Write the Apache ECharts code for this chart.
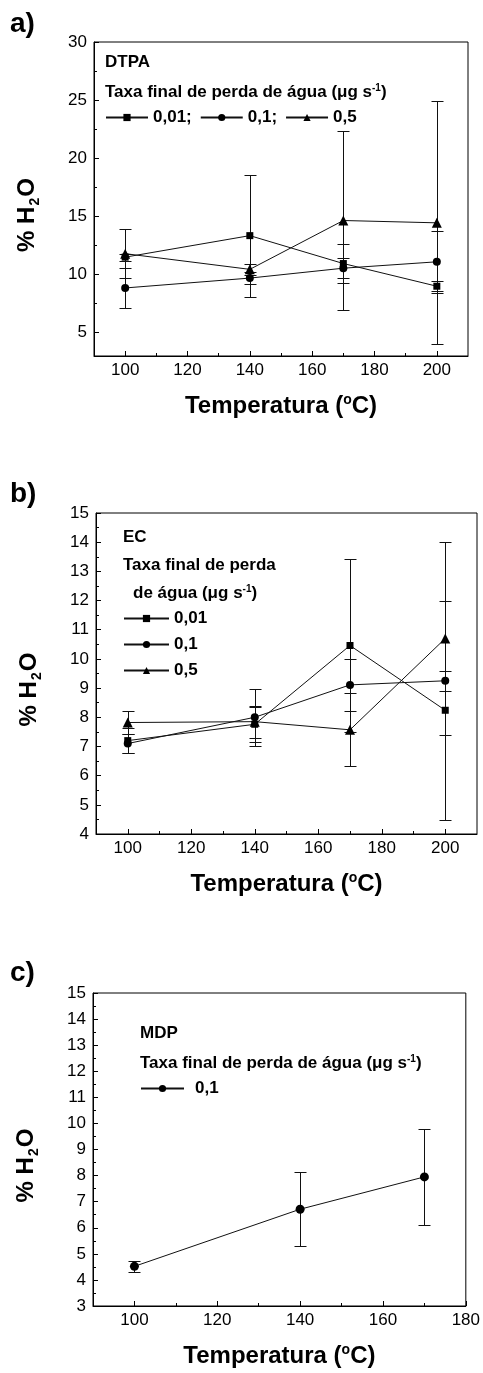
<!DOCTYPE html>
<html><head><meta charset="utf-8">
<script src="https://cdn.jsdelivr.net/npm/echarts@6/dist/echarts.min.js"></script>
<style>html,body{margin:0;padding:0;background:#fff}#c{width:483px;height:1373px}</style>
</head><body><div id="c"></div>
<script>
// ---------- Panel a) DTPA ----------
const tempA = [100, 140, 170, 200];
const a001 = [11.5, 13.35, 10.95, 9.0];
const a001Err = [0.3, 5.25, 1.65, 0.45];
const a01 = [8.85, 9.7, 10.55, 11.1];
const a01Err = [1.75, 0.5, 0.85, 2.65];
const a05 = [11.8, 10.45, 14.65, 14.45];
const a05Err = [2.1, 0.45, 7.7, 10.45];
// ---------- Panel b) EC ----------
const tempB = [100, 140, 170, 200];
const b001 = [7.2, 7.76, 10.46, 8.24];
const b001Err = [0.42, 0.6, 2.97, 3.76];
const b01 = [7.1, 8.0, 9.11, 9.25];
const b01Err = [0.32, 0.97, 0.89, 0.35];
const b05 = [7.82, 7.85, 7.57, 10.7];
const b05Err = [0.4, 0.55, 1.25, 3.3];
// ---------- Panel c) MDP ----------
const tempC = [100, 140, 170];
const c01 = [4.52, 6.71, 7.95];
const c01Err = [0.2, 1.41, 1.83];
// ---------- Tick labels ----------
const xTicksAB = [100, 120, 140, 160, 180, 200];
const xMinorAB = [110, 130, 150, 170, 190];
const yTicksA = [5, 10, 15, 20, 25, 30];
const yMinorA = [7.5, 12.5, 17.5, 22.5, 27.5];
const yTicksB = [4, 5, 6, 7, 8, 9, 10, 11, 12, 13, 14, 15];
const yMinorB = [4.5, 5.5, 6.5, 7.5, 8.5, 9.5, 10.5, 11.5, 12.5, 13.5, 14.5];
const xTicksC = [100, 120, 140, 160, 180];
const xMinorC = [110, 130, 150, 170];
const yTicksC = [3, 4, 5, 6, 7, 8, 9, 10, 11, 12, 13, 14, 15];
const yMinorC = [3.5, 4.5, 5.5, 6.5, 7.5, 8.5, 9.5, 10.5, 11.5, 12.5, 13.5, 14.5];

const FONT = "'Liberation Sans', Arial, sans-serif";
const BLK = '#000';

const grids = [
  {left: 94, top: 42, width: 374, height: 314},
  {left: 96, top: 513, width: 381, height: 321},
  {left: 93, top: 993, width: 374, height: 313}
].map(g => Object.assign(g, {show: true, borderColor: BLK, borderWidth: 1, backgroundColor: 'transparent'}));

const xName = '{b|Temperatura (}{s|o}{b|C)}';
const yName = '{b|% H}{d|2}{b|O}';
const nameRich = {
  b: {fontSize: 24, fontWeight: 'bold', fontFamily: FONT, color: BLK, lineHeight: 30},
  s: {fontSize: 14, fontWeight: 'bold', fontFamily: FONT, color: BLK, lineHeight: 30, verticalAlign: 'top', padding: [2, 0, 0, 0]},
  d: {fontSize: 14, fontWeight: 'bold', fontFamily: FONT, color: BLK, lineHeight: 30, verticalAlign: 'bottom', padding: [0, 1, 0, 1]}
};

function mainAxis(dim, gi, min, max, ticks) {
  const ax = {
    type: 'value', gridIndex: gi, min, max,
    position: dim === 'x' ? 'bottom' : 'left',
    axisLine: {show: true, onZero: false, lineStyle: {color: BLK, width: 1}},
    axisTick: {show: true, inside: true, length: 5, customValues: ticks, lineStyle: {color: BLK}},
    axisLabel: {customValues: ticks, fontSize: 17, color: BLK, fontFamily: FONT, margin: dim === 'x' ? 6 : 7},
    splitLine: {show: false},
    nameLocation: 'middle'
  };
  if (dim === 'x') {
    ax.name = xName; ax.nameGap = 35;
    ax.nameTextStyle = {rich: nameRich};
  } else {
    ax.name = yName; ax.nameGap = 52;
    ax.nameTextStyle = {rich: nameRich, padding: [0, 32, 0, 0]};
  }
  return ax;
}
function minorAxis(dim, gi, min, max, ticks) {
  return {
    type: 'value', gridIndex: gi, min, max,
    position: dim === 'x' ? 'bottom' : 'left', offset: 0,
    axisLine: {show: false, onZero: false},
    axisTick: {show: true, inside: true, length: 3, customValues: ticks, lineStyle: {color: BLK}},
    axisLabel: {show: false},
    splitLine: {show: false}
  };
}

const xAxis = [
  mainAxis('x', 0, 90, 210, xTicksAB), mainAxis('x', 1, 90, 210, xTicksAB), mainAxis('x', 2, 90, 180, xTicksC),
  minorAxis('x', 0, 90, 210, xMinorAB), minorAxis('x', 1, 90, 210, xMinorAB), minorAxis('x', 2, 90, 180, xMinorC)
];
const yAxis = [
  mainAxis('y', 0, 3, 30, yTicksA), mainAxis('y', 1, 4, 15, yTicksB), mainAxis('y', 2, 3, 15, yTicksC),
  minorAxis('y', 0, 3, 30, yMinorA), minorAxis('y', 1, 4, 15, yMinorB), minorAxis('y', 2, 3, 15, yMinorC)
];

function lineSeries(name, xs, ys, gi, symbol, size) {
  return {
    type: 'line', name, xAxisIndex: gi, yAxisIndex: gi,
    data: xs.map((x, i) => [x, ys[i]]),
    symbol, symbolSize: size, showSymbol: true,
    lineStyle: {color: '#111', width: 1},
    itemStyle: {color: BLK, borderWidth: 0},
    z: 3, animation: false
  };
}
function errSeries(xs, ys, es, gi) {
  return {
    type: 'custom', xAxisIndex: gi, yAxisIndex: gi, silent: true, z: 2, animation: false,
    data: xs.map((x, i) => [x, ys[i], es[i]]),
    encode: {x: 0, y: 1},
    renderItem(params, api) {
      const x = api.value(0), y = api.value(1), e = api.value(2);
      const hi = api.coord([x, y + e]), lo = api.coord([x, y - e]);
      const cx = Math.round(hi[0]) + 0.5, y1 = Math.round(hi[1]) + 0.5, y2 = Math.round(lo[1]) + 0.5;
      const w = 6;
      const style = {stroke: '#111', lineWidth: 1};
      return {type: 'group', children: [
        {type: 'line', shape: {x1: cx, y1: y1, x2: cx, y2: y2}, style},
        {type: 'line', shape: {x1: cx - w, y1: y1, x2: cx + w, y2: y1}, style},
        {type: 'line', shape: {x1: cx - w, y1: y2, x2: cx + w, y2: y2}, style}
      ]};
    }
  };
}

const series = [
  errSeries(tempA, a001, a001Err, 0), errSeries(tempA, a01, a01Err, 0), errSeries(tempA, a05, a05Err, 0),
  lineSeries('0,01;', tempA, a001, 0, 'rect', 7),
  lineSeries('0,1;', tempA, a01, 0, 'circle', 8),
  lineSeries('0,5', tempA, a05, 0, 'triangle', 10),
  errSeries(tempB, b001, b001Err, 1), errSeries(tempB, b01, b01Err, 1), errSeries(tempB, b05, b05Err, 1),
  lineSeries('0,01', tempB, b001, 1, 'rect', 7),
  lineSeries('0,1', tempB, b01, 1, 'circle', 8),
  lineSeries('0,5', tempB, b05, 1, 'triangle', 10),
  errSeries(tempC, c01, c01Err, 2),
  lineSeries('0,1', tempC, c01, 2, 'circle', 9)
];

const legText = {fontSize: 17, fontWeight: 'bold', color: BLK, fontFamily: FONT};
const legend = [
  {data: ['0,01;', '0,1;', '0,5'], left: 105, top: 109, padding: 0, orient: 'horizontal', itemWidth: 42, itemHeight: 9, itemGap: 8, textStyle: legText, selectedMode: false},
  {data: ['0,01', '0,1', '0,5'], left: 123, top: 610, padding: 0, orient: 'vertical', itemWidth: 45, itemHeight: 9, itemGap: 9, textStyle: legText, selectedMode: false},
  {data: ['0,1'], left: 140, top: 1080, padding: 0, orient: 'vertical', itemWidth: 43, itemHeight: 9, textStyle: Object.assign({}, legText, {padding: [0, 0, 0, 6]}), selectedMode: false}
];

const tRich = {
  t: {fontSize: 17, fontWeight: 'bold', color: BLK, fontFamily: FONT, lineHeight: 20},
  s: {fontSize: 10, fontWeight: 'bold', color: BLK, fontFamily: FONT, lineHeight: 20, verticalAlign: 'top', padding: [1, 0, 0, 0]}
};
const unitText = '{t|Taxa final de perda de água (μg s}{s|-1}{t|)}';
function tx(text, left, top, size) {
  return {text, left, top, padding: 0, textStyle: {fontSize: size || 17, fontWeight: 'bold', color: BLK, fontFamily: FONT, rich: tRich}};
}
const title = [
  tx('a)', 10, 10, 28), tx('b)', 10, 480, 28), tx('c)', 10, 959, 28),
  tx('DTPA', 105, 54), tx(unitText, 105, 82),
  tx('EC', 123, 529), tx('{t|Taxa final de perda}', 123, 555), tx('{t|de água (μg s}{s|-1}{t|)}', 133, 583),
  tx('MDP', 140, 1025), tx(unitText, 140, 1053)
];

const chart = echarts.init(document.getElementById('c'), null, {renderer: 'canvas'});
chart.setOption({backgroundColor: '#fff', animation: false, title, legend, grid: grids, xAxis, yAxis, series});
</script></body></html>
